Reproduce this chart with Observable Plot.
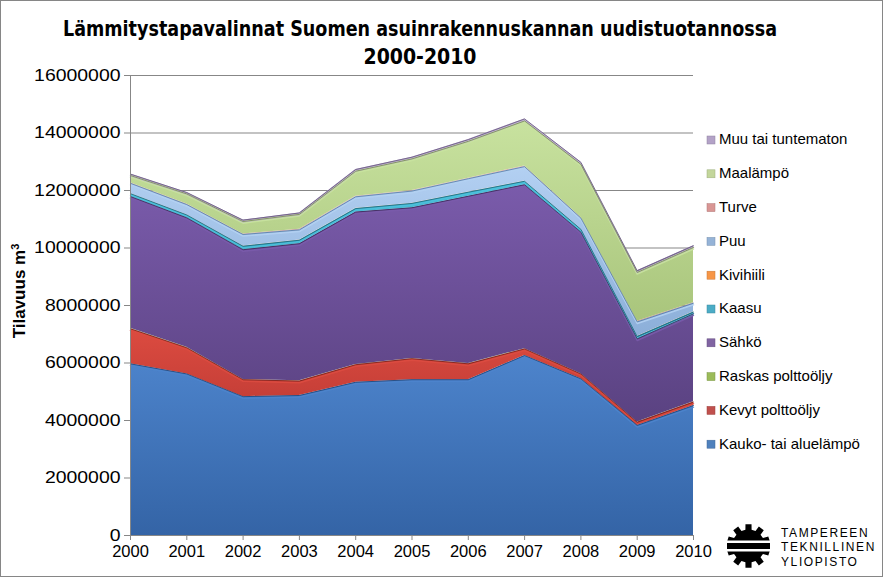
<!DOCTYPE html>
<html><head><meta charset="utf-8">
<script src="https://cdn.jsdelivr.net/npm/d3@7"></script>
<script src="https://cdn.jsdelivr.net/npm/@observablehq/plot@0.6"></script>
<style>
body{margin:0;background:#fff;}
#chart{position:relative;width:883px;height:577px;overflow:hidden;}
</style></head><body><div id="chart"></div>
<script>
// ---- data ----
const years = [2000, 2001, 2002, 2003, 2004, 2005, 2006, 2007, 2008, 2009, 2010];
const seriesNames = ["Kauko- tai aluelämpö", "Kevyt polttoöljy", "Raskas polttoöljy", "Sähkö", "Kaasu", "Kivihiili", "Puu", "Turve", "Maalämpö", "Muu tai tuntematon"];
const kauko     = [5970000, 5620000, 4830000, 4870000, 5330000, 5420000, 5420000, 6260000, 5450000, 3830000, 4520000];
const kevyt     = [1220000, 910000, 590000, 500000, 610000, 730000, 550000, 230000, 170000, 110000, 120000];
const raskas    = [20000, 20000, 10000, 10000, 10000, 10000, 10000, 10000, 10000, 10000, 10000];
const sahko     = [4580000, 4500000, 4510000, 4770000, 5300000, 5240000, 5820000, 5700000, 4920000, 2890000, 3060000];
const kaasu     = [100000, 100000, 120000, 120000, 120000, 150000, 140000, 120000, 100000, 80000, 60000];
const kivihiili = [10000, 10000, 10000, 10000, 10000, 10000, 10000, 10000, 10000, 10000, 10000];
const puu       = [350000, 350000, 400000, 350000, 400000, 420000, 460000, 500000, 380000, 500000, 300000];
const turve     = [20000, 20000, 20000, 20000, 20000, 20000, 20000, 20000, 20000, 20000, 20000];
const maalampo  = [250000, 350000, 430000, 520000, 870000, 1100000, 1280000, 1570000, 1850000, 1700000, 1920000];
const muu       = [50000, 50000, 50000, 50000, 60000, 60000, 60000, 70000, 70000, 60000, 60000];
const seriesValues = [kauko, kevyt, raskas, sahko, kaasu, kivihiili, puu, turve, maalampo, muu];
const yTicks = [0, 2000000, 4000000, 6000000, 8000000, 10000000, 12000000, 14000000, 16000000];
const titleLines = ["Lämmitystapavalinnat Suomen asuinrakennuskannan uudistuotannossa", "2000-2010"];
const yTitle = "Tilavuus m";
const logoLines = ["TAMPEREEN", "TEKNILLINEN", "YLIOPISTO"];

// ---- styles ----
const topColors    = ["#4d84cc", "#dc4b40", "#a9c866", "#7a5bab", "#4cc0da", "#f9a058", "#b3d0f2", "#e3a4a2", "#c8e29f", "#c2b2d6"];
const bottomColors = ["#3464a6", "#bd3a34", "#8aab48", "#5a4281", "#2d93ad", "#d97a30", "#8cafd9", "#c98482", "#a9c57c", "#9c8ab4"];
const edgeColors   = ["#24487a", "#7d2420", "#5d7a2c", "#3d2c5a", "#1f6a7e", "#9c5420", "#5b7fa8", "#8c4e4c", "#7a9450", "#6a5a80"];
const legendColors = ["#4f81bd", "#c0504d", "#9bbb59", "#8064a2", "#4bacc6", "#f79646", "#95b3d7", "#d99694", "#c3d69b", "#b3a2c7"];
const edgeShown    = [true, true, false, true, true, false, true, false, true, true];

const table = [];
seriesNames.forEach((s, i) => years.forEach((y, j) => table.push({year: y, series: s, idx: i, value: seriesValues[i][j]})));

const font = "'Liberation Sans', Arial, sans-serif";
const W = 883, H = 577, mL = 130, mR = 190, mT = 75, mB = 42;

const plot = Plot.plot({
  width: W, height: H,
  marginLeft: mL, marginRight: mR, marginTop: mT, marginBottom: mB,
  style: {fontFamily: font, fontSize: "16.5px", color: "#000", background: "transparent", overflow: "visible"},
  x: {domain: [2000, 2010], label: null},
  y: {domain: [0, 16000000], label: null},
  color: {type: "identity"},
  marks: [
    Plot.ruleY(yTicks.slice(1), {stroke: "#878787", strokeWidth: 1}),
    Plot.areaY(table, {x: "year", y: "value", z: "series", order: seriesNames, fill: d => `url(#grad${d.idx})`}),
    Plot.lineY(table, Plot.stackY2({x: "year", y: "value", z: "series", order: seriesNames, stroke: d => edgeShown[d.idx] ? topColors[d.idx] : "none", strokeWidth: 1.5, dy: 1.6, strokeOpacity: 0.9})),
    Plot.lineY(table, Plot.stackY2({x: "year", y: "value", z: "series", order: seriesNames, stroke: d => edgeShown[d.idx] ? edgeColors[d.idx] : "none", strokeWidth: 1, strokeOpacity: 0.85})),
    Plot.ruleX([2000], {stroke: "#878787"}),
    Plot.ruleY([0], {stroke: "#878787"}),
    Plot.axisY({ticks: yTicks, tickFormat: d => String(d), tickSize: 6, tickPadding: 4, fontSize: 16.5, stroke: "#878787"}),
    Plot.axisX({ticks: years, tickFormat: d => String(d), tickSize: 5, tickPadding: 5, fontSize: 16.5, stroke: "#878787"})
  ]
});

document.getElementById("chart").appendChild(plot);
const svg = d3.select(plot);

// widen y tick labels like the reference
svg.selectAll('[aria-label="y-axis tick label"] text').each(function () {
  const t = this.textContent;
  d3.select(this).attr("textLength", t.length * 10.8).attr("lengthAdjust", "spacingAndGlyphs");
});

// gradients
const defs = svg.insert("defs", ":first-child");
topColors.forEach((c, i) => {
  const g = defs.append("linearGradient").attr("id", `grad${i}`).attr("x1", 0).attr("y1", 0).attr("x2", 0).attr("y2", 1);
  g.append("stop").attr("offset", "0%").attr("stop-color", c);
  g.append("stop").attr("offset", "100%").attr("stop-color", bottomColors[i]);
});

// border
svg.append("rect").attr("x", 0.5).attr("y", 0.5).attr("width", W - 1).attr("height", H - 1)
  .attr("fill", "none").attr("stroke", "#868686");

// title
const tg = svg.append("g").attr("font-family", "'Liberation Sans Narrow', 'DejaVu Sans Condensed', 'Liberation Sans', sans-serif").attr("font-weight", "bold").attr("font-size", 21).attr("text-anchor", "middle").attr("fill", "#000");
tg.append("text").attr("x", 420).attr("y", 36).attr("textLength", 714).attr("lengthAdjust", "spacingAndGlyphs").text(titleLines[0]);
tg.append("text").attr("x", 420).attr("y", 64).text(titleLines[1]);

// y title
const yt = svg.append("text").attr("transform", "translate(25,291) rotate(-90)").attr("text-anchor", "middle")
  .attr("font-family", font).attr("font-weight", "bold").attr("font-size", 17).attr("fill", "#000");
yt.append("tspan").text(yTitle);
yt.append("tspan").attr("font-size", 11).attr("dy", -6).text("3");

// legend
const lg = svg.append("g").attr("font-family", font).attr("font-size", 15).attr("fill", "#000").attr("text-anchor", "start");
const order = seriesNames.map((s, i) => i).reverse();
order.forEach((i, k) => {
  const cy = 139 + k * 33.8;
  lg.append("rect").attr("x", 707).attr("y", cy - 3).attr("width", 8).attr("height", 8)
    .attr("fill", legendColors[i]).attr("stroke", d3.color(legendColors[i]).darker(0.6)).attr("stroke-width", 0.5);
  lg.append("text").attr("x", 719).attr("y", cy).attr("dy", "0.36em").text(seriesNames[i]);
});

// logo
const logo = svg.append("g");
const cx = 748.5, cy = 546, rOut = 22, rIn = 16.5, teeth = 10;
let pts = [];
for (let t = 0; t < teeth; t++) {
  const a0 = (t / teeth) * 2 * Math.PI;
  const step = 2 * Math.PI / teeth;
  pts.push([a0 - step * 0.22, rOut], [a0 + step * 0.22, rOut], [a0 + step * 0.3, rIn], [a0 + step * 0.7, rIn], [a0 + step * 0.78, rOut]);
}
pts = pts.map(([a, r]) => [cx + r * Math.sin(a), cy - r * Math.cos(a)]);
logo.append("path").attr("d", "M" + pts.map(p => p.join(",")).join("L") + "Z").attr("fill", "#000");
logo.append("rect").attr("x", 724).attr("y", 540.5).attr("width", 50).attr("height", 11).attr("fill", "#fff");
logo.append("rect").attr("x", 727).attr("y", 543).attr("width", 43).attr("height", 6).attr("fill", "#000");
const lt = logo.append("g").attr("font-family", font).attr("font-size", 12).attr("letter-spacing", 1.6).attr("fill", "#000").attr("text-anchor", "start");
logoLines.forEach((t, i) => lt.append("text").attr("x", 781).attr("y", 536.5 + i * 14.5).text(t));
</script></body></html>
